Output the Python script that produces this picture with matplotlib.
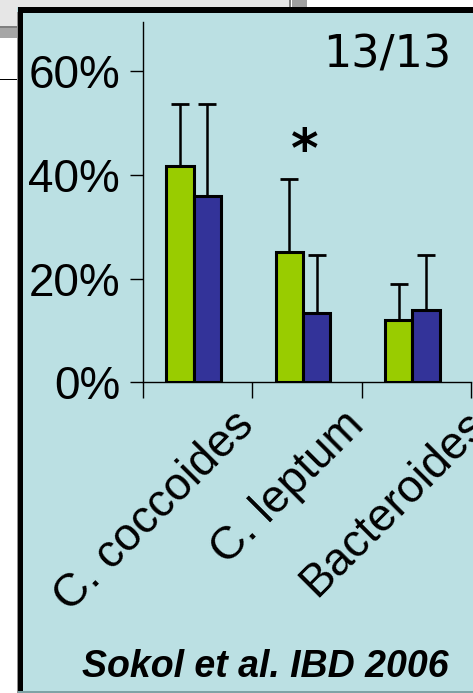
import matplotlib
matplotlib.use("Agg")
import matplotlib.pyplot as plt
from matplotlib.patches import Rectangle
from matplotlib.ticker import FixedLocator, FuncFormatter

# Relative abundance of bacterial groups (percent of total bacteria)
categories = ["C. coccoides", "C. leptum", "Bacteroides"]
green_vals = [41.7, 25.2, 12.0]
green_err = [11.9, 13.9, 6.9]
blue_vals = [36.0, 13.3, 13.9]
blue_err = [17.6, 11.3, 10.7]
y_ticks = [0, 20, 40, 60]
signif_cat = 1          # category marked with an asterisk
count_label = "13/13"
source_label = "Sokol et al. IBD 2006"

W, H = 473, 693
fig = plt.figure(figsize=(W / 100, H / 100), dpi=100)
fig.patch.set_facecolor("white")

PANEL = "#BBE0E3"
GREEN = "#99CC00"
BLUE = "#333399"


def px_rect(x0, y0, x1, y1, color, z=-10):
    """Rectangle given in pixel coordinates measured from the top-left corner."""
    r = Rectangle((x0 / W, 1 - y1 / H), (x1 - x0) / W, (y1 - y0) / H,
                  transform=fig.transFigure, facecolor=color,
                  edgecolor="none", zorder=z)
    fig.patches.append(r)


# slide background pieces around the panel
px_rect(0, 0, 289, 26, "#E6E6E6")
px_rect(0, 26, 291, 27.5, "#7F7F7F")
px_rect(289, 0, 291, 27.5, "#7F7F7F")
px_rect(292, 0, 307, 8, "#A0A0A0")
px_rect(0, 28, 18, 38, "#A6A6A6")
px_rect(0, 78.5, 18, 80, "#000000")

# light blue panel with black border
px_rect(17, 7, W + 5, H, PANEL, z=-9)
px_rect(16.5, 12, 17.5, H, "#909090", z=-8)
px_rect(17.5, 7, 23, H, "#000000", z=-8)
px_rect(17.5, 7, W + 5, 13, "#000000", z=-8)
px_rect(17.5, 691, W + 5, H, "#7FA3A6", z=-8)

# axes placed in pixel terms
px_per_pct = 5.188
x0_px, zero_px = 143, 382.3
cat_px = 109.3
ymax = 69.5
ax = fig.add_axes([x0_px / W, (H - zero_px) / H,
                   len(categories) * cat_px / W, ymax * px_per_pct / H])
ax.set_facecolor("none")
ax.set_xlim(0, len(categories))
ax.set_ylim(0, ymax)

bw = 0.25
xs = [i + 0.465 for i in range(len(categories))]
xg = [x - bw / 2 for x in xs]
xb = [x + bw / 2 for x in xs]

ax.bar(xg, green_vals, width=bw, color=GREEN, edgecolor="black",
       linewidth=2.2, zorder=3)
ax.bar(xb, blue_vals, width=bw, color=BLUE, edgecolor="black",
       linewidth=2.2, zorder=3)
ax.errorbar(xg, green_vals, yerr=[[0] * len(green_err), green_err],
            fmt="none", ecolor="black", elinewidth=1.8, capsize=6.4,
            capthick=2.0, zorder=2)
ax.errorbar(xb, blue_vals, yerr=[[0] * len(blue_err), blue_err],
            fmt="none", ecolor="black", elinewidth=1.8, capsize=6.4,
            capthick=2.0, zorder=2)

# significance marker, placed a little above the taller error bar
top = max(green_vals[signif_cat] + green_err[signif_cat],
          blue_vals[signif_cat] + blue_err[signif_cat])
ax.annotate("*", xy=(xs[signif_cat], top), xytext=(1, 1),
            textcoords="offset points", ha="center", va="bottom",
            fontsize=38, fontweight="bold", family="DejaVu Sans")

# spines and ticks
for s in ("top", "right"):
    ax.spines[s].set_visible(False)
for s in ("left", "bottom"):
    ax.spines[s].set_linewidth(1.0)
    ax.spines[s].set_color("black")

ax.yaxis.set_major_locator(FixedLocator(y_ticks))
ax.yaxis.set_major_formatter(FuncFormatter(lambda v, p: f"{v:.0f}%"))
ax.tick_params(axis="y", direction="out", length=9.4, width=1.0, pad=7,
               labelsize=33)
for lab in ax.get_yticklabels():
    lab.set_family("Liberation Sans")

ax.xaxis.set_major_locator(FixedLocator(range(len(categories) + 1)))
ax.set_xticklabels([])
ax.tick_params(axis="x", direction="out", length=11.5, width=1.0)

# rotated category names, right end anchored near each category
label_dx = [36, 36, 45]
for i, name in enumerate(categories):
    ax.annotate(name, xy=(i + 0.5, 0), xytext=(label_dx[i], -26),
                textcoords="offset points", rotation=45,
                rotation_mode="anchor", ha="right", va="center",
                fontsize=33, family="Liberation Sans", annotation_clip=False)

fig.text(387 / W, 1 - 55 / H, count_label, ha="center", va="center",
         fontsize=32, family="DejaVu Sans")
fig.text(265 / W, 1 - 677 / H, source_label, ha="center", va="baseline",
         fontsize=27, fontweight="bold", fontstyle="italic",
         family="Liberation Sans")

fig.savefig("out.png", dpi=100)
